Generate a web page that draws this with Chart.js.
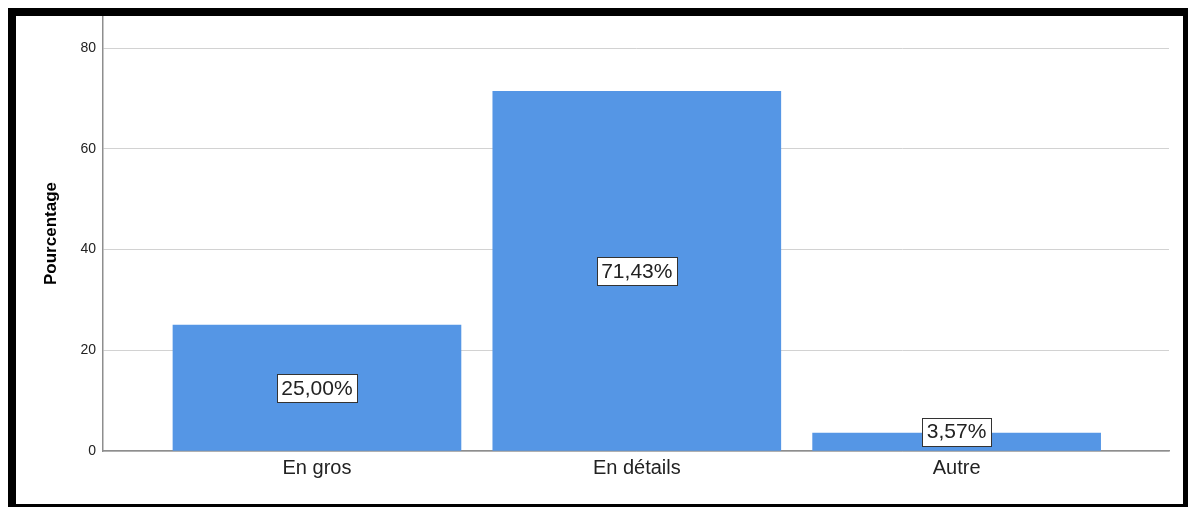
<!DOCTYPE html>
<html>
<head>
<meta charset="utf-8">
<script src="https://cdn.jsdelivr.net/npm/chart.js@4/dist/chart.umd.min.js"></script>
<style>
  html, body { margin: 0; padding: 0; background: #fff; overflow: hidden; width: 1188px; height: 507px; }
  #frame { position: absolute; left: 8px; top: 8px; width: 1167px; height: 488px; border: 8px solid #000; background: #fff; }
  #wrap { position: relative; width: 1167px; height: 488px; }
</style>
</head>
<body>
<div id="frame"><div id="wrap"><canvas id="myChart"></canvas></div></div>
<script>
const categories = ["En gros", "En détails", "Autre"];
const percentages = [25.00, 71.43, 3.57];
const valueLabels = ["25,00%", "71,43%", "3,57%"];
const yTicks = [0, 20, 40, 60, 80];

const barColor = "#5596e5";
const fontFamily = "Arial, 'Liberation Sans', sans-serif";

// boxed percentage labels in the middle of each bar
const boxLabels = {
    id: "boxLabels",
    afterDatasetsDraw(chart) {
        const ctx = chart.ctx;
        const meta = chart.getDatasetMeta(0);
        ctx.save();
        ctx.font = "21px " + fontFamily;
        ctx.textAlign = "center";
        ctx.textBaseline = "middle";
        meta.data.forEach((bar, i) => {
            const text = valueLabels[i];
            const w = Math.round(ctx.measureText(text).width + 9);
            const h = 28;
            let cy = (bar.y + bar.base) / 2;
            cy = Math.min(cy, bar.base - 19);
            const x0 = Math.round(bar.x - w / 2) + 0.5;
            const y0 = Math.round(cy - h / 2) + 0.5;
            ctx.fillStyle = "#fff";
            ctx.fillRect(x0, y0, w, h);
            ctx.strokeStyle = "#333";
            ctx.lineWidth = 1;
            ctx.strokeRect(x0, y0, w, h);
            ctx.fillStyle = "#222";
            ctx.fillText(text, bar.x, cy + 1);
        });
        ctx.restore();
    }
};

function renderChart() {
    const ctx = document.getElementById("myChart").getContext("2d");
    new Chart(ctx, {
        type: "bar",
        data: {
            datasets: [{
                data: percentages.map((v, i) => ({ x: i, y: v })),
                backgroundColor: barColor,
                borderWidth: 0,
                barThickness: 288,
            }],
        },
        options: {
            responsive: true,
            maintainAspectRatio: false,
            animation: false,
            layout: { padding: { top: 0, right: 14, bottom: 0, left: 0 } },
            plugins: {
                legend: { display: false },
                tooltip: { enabled: false },
            },
            scales: {
                x: {
                    type: "linear",
                    offset: false,
                    min: -0.669,
                    max: 2.664,
                    grid: { display: false },
                    border: { display: true, color: "#8e8e8e", width: 1.5 },
                    afterBuildTicks: (axis) => {
                        axis.ticks = categories.map((c, i) => ({ value: i }));
                    },
                    afterFit: (scale) => {
                        scale.height = 53;
                        scale.paddingLeft = 0;
                        scale.paddingRight = 0;
                    },
                    ticks: {
                        padding: -3,
                        color: "#222",
                        font: { family: fontFamily, size: 20 },
                        callback: (value) => categories[value],
                    },
                },
                y: {
                    min: 0,
                    max: 86.4,
                    grid: { color: "#d2d2d2", lineWidth: 1, drawTicks: false },
                    border: { display: true, color: "#8e8e8e", width: 1.5 },
                    afterBuildTicks: (axis) => {
                        axis.ticks = yTicks.map((v) => ({ value: v }));
                    },
                    afterFit: (scale) => {
                        scale.width = 87;
                        scale.paddingTop = 0;
                        scale.paddingBottom = 0;
                    },
                    ticks: {
                        padding: 7,
                        color: "#222",
                        font: { family: fontFamily, size: 14 },
                    },
                    title: {
                        display: true,
                        text: "Pourcentage",
                        color: "#000",
                        padding: { top: 25, bottom: 0 },
                        font: { family: fontFamily, size: 17, weight: "bold" },
                    },
                },
            },
        },
        plugins: [boxLabels],
    });
}

document.addEventListener("DOMContentLoaded", renderChart);
</script>
</body>
</html>
